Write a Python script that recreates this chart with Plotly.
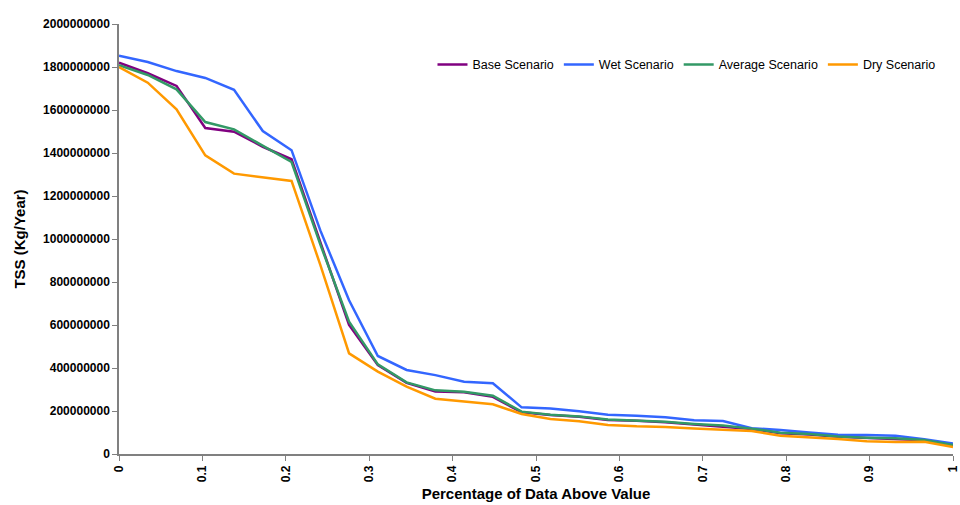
import plotly.graph_objects as go

n_points = 30
x_vals = [i / 29 for i in range(n_points)]

base = [1.820e9, 1.771e9, 1.712e9, 1.516e9, 1.499e9, 1.429e9, 1.371e9, 0.985e9, 0.600e9, 0.414e9,
        0.331e9, 0.291e9, 0.287e9, 0.266e9, 0.194e9, 0.181e9, 0.173e9, 0.158e9, 0.155e9, 0.148e9,
        0.138e9, 0.128e9, 0.116e9, 0.097e9, 0.091e9, 0.080e9, 0.075e9, 0.071e9, 0.064e9, 0.041e9]
wet = [1.852e9, 1.823e9, 1.781e9, 1.749e9, 1.694e9, 1.502e9, 1.413e9, 1.040e9, 0.715e9, 0.456e9,
       0.391e9, 0.367e9, 0.336e9, 0.329e9, 0.217e9, 0.212e9, 0.199e9, 0.183e9, 0.178e9, 0.171e9,
       0.157e9, 0.153e9, 0.120e9, 0.112e9, 0.100e9, 0.090e9, 0.088e9, 0.085e9, 0.069e9, 0.049e9]
average = [1.808e9, 1.763e9, 1.696e9, 1.544e9, 1.510e9, 1.432e9, 1.358e9, 0.975e9, 0.615e9, 0.417e9,
           0.333e9, 0.296e9, 0.290e9, 0.271e9, 0.197e9, 0.183e9, 0.175e9, 0.161e9, 0.157e9, 0.150e9,
           0.140e9, 0.132e9, 0.118e9, 0.099e9, 0.093e9, 0.081e9, 0.076e9, 0.073e9, 0.065e9, 0.042e9]
dry = [1.800e9, 1.727e9, 1.603e9, 1.389e9, 1.304e9, 1.287e9, 1.270e9, 0.880e9, 0.468e9, 0.383e9,
       0.313e9, 0.257e9, 0.243e9, 0.231e9, 0.186e9, 0.163e9, 0.152e9, 0.135e9, 0.129e9, 0.126e9,
       0.119e9, 0.113e9, 0.107e9, 0.085e9, 0.078e9, 0.070e9, 0.059e9, 0.056e9, 0.057e9, 0.033e9]

series_names = ["Base Scenario", "Wet Scenario", "Average Scenario", "Dry Scenario"]
series_data = [base, wet, average, dry]
series_colors = ["#800080", "#3366FF", "#339966", "#FF9900"]

x_tick_vals = [0, 0.1, 0.2, 0.3, 0.4, 0.5, 0.6, 0.7, 0.8, 0.9, 1]
x_tick_text = ["0", "0.1", "0.2", "0.3", "0.4", "0.5", "0.6", "0.7", "0.8", "0.9", "1"]
y_tick_vals = [i * 200000000 for i in range(11)]
y_tick_text = [str(v) for v in y_tick_vals]

FONT = "Liberation Sans, Arial, sans-serif"

fig = go.Figure()
for name, data, color in zip(series_names, series_data, series_colors):
    fig.add_trace(go.Scatter(x=x_vals, y=data, mode="lines", name=name,
                             line=dict(color=color, width=2.5)))

fig.update_layout(
    width=960, height=505,
    margin=dict(l=119, r=7, t=24, b=51),
    plot_bgcolor="white", paper_bgcolor="white",
    font=dict(family=FONT, color="black"),
    legend=dict(orientation="h", x=0.985, xanchor="right", y=0.905, yanchor="middle",
                font=dict(family=FONT, size=12.5, color="black"),
                bgcolor="rgba(0,0,0,0)", itemwidth=30, tracegroupgap=0),
    xaxis=dict(range=[0, 1], tickvals=x_tick_vals, ticktext=x_tick_text, tickangle=-90,
               ticklabeloverflow="allow", automargin=False,
               showgrid=False, zeroline=False, showline=True, linecolor="#808080", linewidth=1.5,
               ticks="outside", ticklen=5, tickcolor="#808080", tickwidth=1,
               tickfont=dict(family=FONT, size=12, color="black", weight="bold"),
               title=dict(text="<b>Percentage of Data Above Value</b>", standoff=7,
                          font=dict(family=FONT, size=15, color="black"))),
    yaxis=dict(range=[0, 2000000000], tickvals=y_tick_vals, ticktext=y_tick_text,
               automargin=False,
               showgrid=False, zeroline=False, showline=True, linecolor="#808080", linewidth=1.5,
               ticks="outside", ticklen=5, tickcolor="#808080", tickwidth=1,
               tickfont=dict(family=FONT, size=12, color="black", weight="bold"),
               title=dict(text="<b>TSS (Kg/Year)</b>", standoff=14,
                          font=dict(family=FONT, size=15, color="black"))),
)

fig.write_html("out.html")
